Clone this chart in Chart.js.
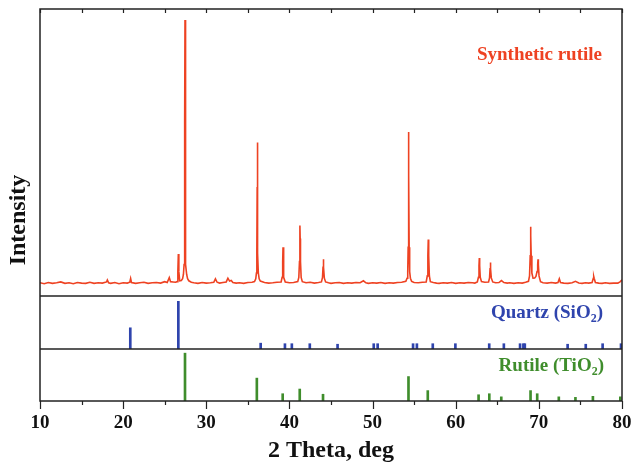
<!DOCTYPE html>
<html lang="en">
<head>
  <meta charset="UTF-8" />
  <title>XRD - Synthetic rutile</title>
  <script src="https://cdn.jsdelivr.net/npm/chart.js"></script>
  <style>
    body {
      margin: 0;
      background: #fff;
    }
    canvas {
      display: block;
    }
  </style>
</head>
<body>
  <canvas id="xrd" width="632" height="468"></canvas>

  <script>
    // measured scan of the synthetic rutile sample: [2theta, intensity]
    const rutileScan = [
      [10,4.6],[10.5,4.3],[11,4.7],[11.5,4.4],[12,4.6],[12.5,4.9],[13,4.4],[13.5,4.6],[14,4.3],[14.5,4.7],
      [15,4.5],[15.5,4.4],[16,4.8],[16.5,4.4],[17,4.6],[17.5,4.5],[18,4.9],[18.1,5.6],[18.25,4.6],[18.5,4.4],
      [19,4.7],[19.5,4.3],[20,4.6],[20.5,4.5],[20.8,4.8],[20.9,6.1],[21,4.7],[21.5,4.4],[22,4.6],[22.5,4.8],
      [23,4.4],[23.5,4.6],[24,4.7],[24.5,4.5],[25,5.0],[25.3,4.7],[25.55,6.4],[25.7,5.0],[26,4.9],[26.3,4.8],
      [26.5,5.0],[26.58,8.5],[26.64,14.6],[26.7,8.5],[26.8,5.3],[27,5.4],[27.15,6.0],[27.25,7.5],[27.33,11],[27.38,22],
      [27.42,60],[27.44,96.2],[27.46,60],[27.5,22],[27.56,11],[27.64,7.5],[27.75,6.0],[27.9,5.3],[28.2,4.8],[28.5,4.6],
      [29,4.4],[29.5,4.7],[30,4.5],[30.5,4.6],
      [30.9,4.8],[31.1,6.0],[31.3,4.8],[31.6,4.5],[32,4.7],[32.4,4.9],[32.6,6.2],[32.8,5.2],[33,5.4],[33.2,4.7],
      [33.6,4.5],[34,4.6],[34.5,4.4],[35,4.7],[35.5,4.8],[35.8,5.0],[35.95,6.0],[36.03,8],[36.08,15],[36.12,38],
      [36.14,53.5],[36.16,38],[36.2,15],[36.26,8],[36.36,6],[36.5,5.2],[37,4.7],[37.5,4.5],[38,4.6],[38.5,4.8],
      [39,4.9],[39.12,6.5],[39.19,12],[39.23,17],[39.27,12],[39.34,6.5],[39.5,4.9],[40,4.6],[40.5,4.7],[41,5.0],
      [41.13,6.5],[41.21,12],[41.25,20],[41.27,24.6],[41.29,20],[41.33,12],[41.41,6.5],[41.55,5.0],[42,4.6],[42.5,4.8],
      [43,4.5],[43.5,4.7],[43.85,4.9],[43.98,6.5],[44.04,10],[44.08,12.8],[44.12,10],[44.2,6.2],[44.35,4.9],[44.7,4.6],
      [45,4.4],[45.5,4.6],[46,4.7],[46.5,4.4],
      [47,4.6],[47.5,4.5],[48,4.7],[48.5,4.6],[48.9,5.3],[49.2,4.6],[49.5,4.4],[50,4.6],[50.5,4.5],[51,4.7],
      [51.5,4.4],[52,4.6],[52.5,4.5],[53,4.7],[53.5,4.8],[54,5.1],[54.15,6.2],[54.23,8.5],[54.28,17],[54.32,42],
      [54.34,57.1],[54.36,42],[54.4,17],[54.46,8.5],[54.55,6.2],[54.7,5.1],[55,4.7],[55.5,4.6],[56,4.8],[56.45,4.9],
      [56.58,7],[56.65,14],[56.7,19.7],[56.75,14],[56.83,7],[56.95,5.0],[57.3,4.7],[57.7,4.5],[58,4.4],[58.5,4.6],
      [59,4.5],[59.5,4.7],
      [60,4.4],[60.5,4.6],[61,4.5],[61.5,4.7],[62,4.6],[62.3,4.5],[62.6,4.9],[62.73,6.5],[62.8,10.5],[62.84,13.2],
      [62.88,10.5],[62.95,6.5],[63.1,5.0],[63.5,4.8],[63.95,4.9],[64.07,6.3],[64.13,9.5],[64.17,11.7],[64.21,9.5],[64.28,6.3],
      [64.45,4.9],[64.8,4.6],[65.2,4.7],[65.5,5.4],[65.8,4.7],[66.2,4.5],[66.5,4.6],[67,4.4],[67.5,4.6],[68,4.5],
      [68.4,4.8],[68.75,5.1],[68.88,7],[68.96,14],[69.0,21],[69.02,24.1],[69.04,21],[69.08,14],[69.16,8],[69.3,6.2],
      [69.5,6.3],[69.65,6.8],[69.78,8.5],[69.86,11],[69.9,12.8],[69.94,11],[70.02,7],[70.2,5.0],[70.5,4.6],[71,4.5],
      [71.5,4.7],[72,4.5],
      [72.3,4.7],[72.46,6.0],[72.6,4.7],[73,4.5],[73.5,4.4],[74,4.6],[74.4,5.1],[74.8,4.5],[75.2,4.4],[75.6,4.6],
      [76,4.5],[76.4,4.7],[76.55,6.2],[76.6,6.8],[76.65,6.2],[76.8,4.7],[77.2,4.5],[77.6,4.4],[78,4.6],[78.5,4.4],
      [79,4.5],[79.5,4.5],[79.8,5.0],[80,5.6]
    ];

    // reference stick patterns
    const quartzPos = [20.86, 26.64, 36.54, 39.46, 40.29, 42.45, 45.79, 50.14, 50.61, 54.87, 55.33,
                       57.24, 59.96, 64.03, 65.79, 67.74, 68.14, 68.31, 73.46, 75.64, 77.67, 79.88];
    const quartzInt = [40, 90, 11, 10, 10, 10, 9, 10, 10, 10, 10,
                       10, 10, 10, 10, 10, 10, 10, 9, 9, 10, 10];

    const rutilePos = [27.44, 36.08, 39.19, 41.24, 44.04, 54.32, 56.64, 62.75, 64.04, 65.48,
                       69.0, 69.8, 72.4, 74.4, 76.5, 79.8];
    const rutileInt = [92, 44, 14, 23, 13, 47, 20, 12, 14, 8,
                       20, 14, 8, 7, 9, 8];

    const xTicks = [10, 20, 30, 40, 50, 60, 70, 80];

    const SERIF = "'Liberation Serif', 'Times New Roman', serif";
    const RED = '#ee4222';
    const BLUE = '#2f44ad';
    const GREEN = '#3f8d2c';

    const sticks = (pos, val) => pos.map((x, i) => ({ x: x, y: val[i] }));

    // text like "Quartz (SiO2)" with a subscript, right aligned
    function drawChem(ctx, parts, right, y, color, size) {
      const big = 'bold ' + size + 'px ' + SERIF;
      const small = 'bold ' + Math.round(size * 0.62) + 'px ' + SERIF;
      let total = 0;
      parts.forEach(p => {
        ctx.font = p.sub ? small : big;
        total += ctx.measureText(p.t).width;
      });
      let x = right - total;
      ctx.fillStyle = color;
      ctx.textAlign = 'left';
      ctx.textBaseline = 'middle';
      parts.forEach(p => {
        ctx.font = p.sub ? small : big;
        ctx.fillText(p.t, x, p.sub ? y + size * 0.32 : y);
        x += ctx.measureText(p.t).width;
      });
    }

    const framePlugin = {
      id: 'frame',
      afterDraw(chart) {
        const { ctx, chartArea: a, scales } = chart;
        const xs = scales.x;
        ctx.save();
        ctx.strokeStyle = '#222';
        ctx.lineWidth = 1.5;
        ctx.strokeRect(a.left, a.top, a.width, a.height);

        // panel separators
        ['yTop', 'yQ', 'yR'].forEach(id => {
          const s = scales[id];
          if (s.bottom < a.bottom - 2) {
            ctx.beginPath();
            ctx.moveTo(a.left, s.bottom);
            ctx.lineTo(a.right, s.bottom);
            ctx.stroke();
          }
        });

        // ticks: outward at the bottom, inward at the top
        ctx.lineWidth = 1.2;
        for (let v = 10; v <= 80; v += 5) {
          const px = Math.round(xs.getPixelForValue(v)) + 0.5;
          const major = v % 10 === 0;
          ctx.beginPath();
          ctx.moveTo(px, a.bottom);
          ctx.lineTo(px, a.bottom + (major ? 8 : 4));
          ctx.moveTo(px, a.top);
          ctx.lineTo(px, a.top + 4);
          ctx.stroke();
        }

        // y title
        ctx.fillStyle = '#111';
        ctx.font = 'bold 24px ' + SERIF;
        ctx.textAlign = 'center';
        ctx.textBaseline = 'middle';
        ctx.translate(19, 220);
        ctx.rotate(-Math.PI / 2);
        ctx.fillText('Intensity', 0, 0);
        ctx.setTransform(1, 0, 0, 1, 0, 0);

        // panel labels
        ctx.fillStyle = RED;
        ctx.font = 'bold 19px ' + SERIF;
        ctx.textAlign = 'right';
        ctx.fillText('Synthetic rutile', a.right - 20, scales.yTop.top + 46);

        drawChem(ctx, [{ t: 'Quartz (SiO' }, { t: '2', sub: true }, { t: ')' }],
          a.right - 19, scales.yQ.top + 17, BLUE, 19);
        drawChem(ctx, [{ t: 'Rutile (TiO' }, { t: '2', sub: true }, { t: ')' }],
          a.right - 18, scales.yR.top + 17, GREEN, 19);
        ctx.restore();
      }
    };

    const noGrid = { display: false, drawTicks: false };
    const hiddenY = {
      type: 'linear',
      position: 'left',
      stack: 'panels',
      min: 0,
      max: 100,
      ticks: { display: false },
      grid: noGrid,
      border: { display: false }
    };

    new Chart(document.getElementById('xrd'), {
      type: 'line',
      data: {
        datasets: [
          {
            label: 'Synthetic rutile',
            data: rutileScan.map(p => ({ x: p[0], y: p[1] })),
            xAxisID: 'x',
            yAxisID: 'yTop',
            borderColor: RED,
            borderWidth: 1.6,
            pointRadius: 0,
            tension: 0
          },
          {
            type: 'bar',
            label: 'Quartz (SiO2)',
            data: sticks(quartzPos, quartzInt),
            xAxisID: 'x',
            yAxisID: 'yQ',
            backgroundColor: BLUE,
            barThickness: 2,
            grouped: false
          },
          {
            type: 'bar',
            label: 'Rutile (TiO2)',
            data: sticks(rutilePos, rutileInt),
            xAxisID: 'x',
            yAxisID: 'yR',
            backgroundColor: GREEN,
            barThickness: 2,
            grouped: false
          }
        ]
      },
      options: {
        responsive: false,
        devicePixelRatio: 1,
        animation: false,
        layout: { padding: { left: 40, right: 10, top: 9, bottom: 0 } },
        plugins: {
          legend: { display: false },
          tooltip: { enabled: false }
        },
        scales: {
          x: {
            type: 'linear',
            position: 'bottom',
            min: 10,
            max: 80,
            offset: false,
            afterBuildTicks: axis => { axis.ticks = xTicks.map(v => ({ value: v })); },
            afterFit: axis => {
              axis.height = 67;
              axis.paddingLeft = 0;
              axis.paddingRight = 0;
            },
            ticks: {
              padding: 11,
              color: '#111',
              font: { family: SERIF, size: 19, weight: 'bold' }
            },
            grid: noGrid,
            border: { display: false },
            title: {
              display: true,
              text: '2 Theta, deg',
              color: '#111',
              padding: { top: 0, bottom: 3 },
              font: { family: SERIF, size: 24, weight: 'bold' }
            }
          },
          // stacked panels are laid out bottom-up, so the lowest one comes first
          yR: Object.assign({}, hiddenY, { stackWeight: 52 }),
          yQ: Object.assign({}, hiddenY, { stackWeight: 53 }),
          yTop: Object.assign({}, hiddenY, { stackWeight: 287 })
        }
      },
      plugins: [framePlugin]
    });
  </script>
</body>
</html>
